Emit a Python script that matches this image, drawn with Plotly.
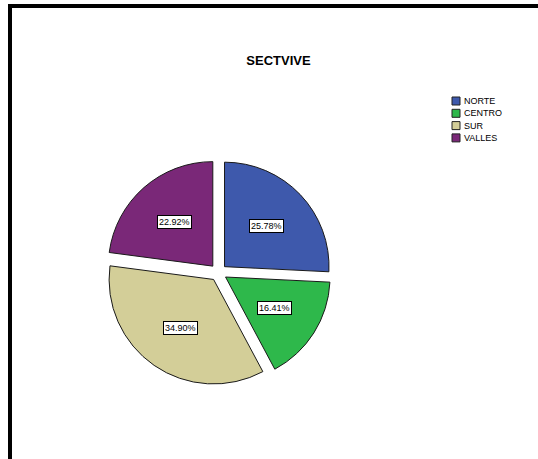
import math
import plotly.graph_objects as go

# ---- data ----
labels = ["NORTE", "CENTRO", "SUR", "VALLES"]
counts = [99, 63, 134, 88]
colors = ["#3e59ac", "#2eb84b", "#d3ce98", "#7a2878"]
title_text = "SECTVIVE"

W, H = 538, 459
PULL = 0.081
# pie placement (pixels)
CX, CY, R = 218.4, 272.5, 104.5
half = R * (1 + PULL)

fig = go.Figure()
fig.add_trace(go.Pie(
    labels=labels, values=counts, sort=False, direction="clockwise", rotation=0,
    pull=[PULL] * len(counts),
    marker=dict(colors=colors, line=dict(color="#1a1a1a", width=1)),
    textinfo="none", hoverinfo="label+percent", showlegend=False,
    domain=dict(x=[(CX - half) / W, (CX + half) / W],
                y=[(H - CY - half) / H, (H - CY + half) / H]),
))

annotations = []
total = sum(counts)
cum = 0
for lab, v in zip(labels, counts):
    frac = v / total
    mid = (cum + frac / 2) * 2 * math.pi
    cum += frac
    d = PULL * R + 0.56 * R
    px = CX + d * math.sin(mid)
    py = CY - d * math.cos(mid)
    annotations.append(dict(
        x=px / W, y=1 - py / H, xref="paper", yref="paper", showarrow=False,
        text=f"{frac * 100:.2f}%", font=dict(family="Liberation Sans, Arial", size=9, color="black"),
        bgcolor="white", bordercolor="black", borderwidth=1, borderpad=1,
        xanchor="center", yanchor="middle"))

shapes = [
    dict(type="line", xref="paper", yref="paper", x0=8 / W, x1=1, y0=1 - 6 / H, y1=1 - 6 / H,
         line=dict(color="black", width=4)),
    dict(type="line", xref="paper", yref="paper", x0=10 / W, x1=10 / W, y0=0, y1=1 - 4 / H,
         line=dict(color="black", width=4)),
]

# legend (manual, SPSS style)
LX, LY, STEP, SW = 452, 101, 12.3, 8
for i, (lab, c) in enumerate(zip(labels, colors)):
    yc = LY + i * STEP
    shapes.append(dict(type="rect", xref="paper", yref="paper",
                       x0=LX / W, x1=(LX + SW) / W,
                       y0=1 - (yc + SW / 2) / H, y1=1 - (yc - SW / 2) / H,
                       fillcolor=c, line=dict(color="#222", width=1)))
    annotations.append(dict(x=(LX + SW + 2) / W, y=1 - yc / H, xref="paper", yref="paper",
                            showarrow=False, text=lab, xanchor="left", yanchor="middle",
                            font=dict(family="Liberation Sans, Arial", size=9, color="black")))

fig.update_layout(
    width=W, height=H, margin=dict(l=0, r=0, t=0, b=0),
    paper_bgcolor="white", plot_bgcolor="white",
    title=dict(text=f"<b>{title_text}</b>", x=278.5 / W, y=1 - 60 / H, xref="paper", yref="paper",
               xanchor="center", yanchor="middle",
               font=dict(family="Liberation Sans, Arial", size=13, color="black")),
    annotations=annotations, shapes=shapes,
)

fig.write_html("out.html", config={"displayModeBar": False},
               post_script="document.body.style.margin='0';document.body.style.overflow='hidden';")
